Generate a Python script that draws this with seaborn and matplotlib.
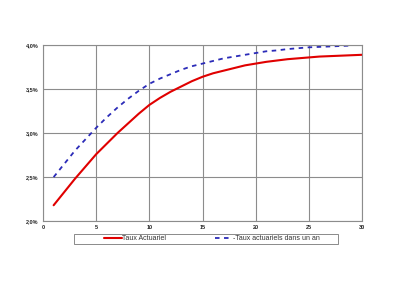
import matplotlib
matplotlib.use("Agg")
import matplotlib.pyplot as plt
from matplotlib.patches import Rectangle
import seaborn as sns
import pandas as pd
from matplotlib.ticker import FuncFormatter

years_actuel = list(range(1, 31))
taux_actuel = [2.18, 2.33, 2.48, 2.62, 2.76, 2.88, 3.00, 3.11, 3.22, 3.32,
               3.40, 3.47, 3.53, 3.59, 3.64, 3.68, 3.71, 3.74, 3.77, 3.79,
               3.81, 3.825, 3.84, 3.85, 3.86, 3.87, 3.875, 3.88, 3.885, 3.89]

years_un_an = list(range(1, 30))
taux_un_an = [2.50, 2.65, 2.80, 2.93, 3.06, 3.18, 3.29, 3.39, 3.48, 3.56,
              3.62, 3.67, 3.72, 3.76, 3.79, 3.82, 3.85, 3.87, 3.89, 3.91,
              3.93, 3.94, 3.955, 3.965, 3.975, 3.98, 3.985, 3.99, 3.995]

label_actuel = "Taux Actuariel"
label_un_an = "-Taux actuariels dans un an"

sns.set_style("white")
plt.rcParams['font.family'] = ['Liberation Sans', 'DejaVu Sans']

fig = plt.figure(figsize=(4.0, 2.82), dpi=100)
ax = fig.add_axes([0.1075, 0.216, 0.7975, 0.624])

df1 = pd.DataFrame({"annee": years_actuel, "taux": taux_actuel})
df2 = pd.DataFrame({"annee": years_un_an, "taux": taux_un_an})

sns.lineplot(data=df1, x="annee", y="taux", ax=ax, color="#e00000",
             linewidth=1.5, label=label_actuel)
sns.lineplot(data=df2, x="annee", y="taux", ax=ax, color="#2b2bb8",
             linewidth=1.3, linestyle=(0, (2.5, 2.5)), label=label_un_an)

ax.set_xlim(0, 30)
ax.set_ylim(2.0, 4.0)
ax.set_xticks([0, 5, 10, 15, 20, 25, 30])
ax.set_yticks([2.0, 2.5, 3.0, 3.5, 4.0])
ax.yaxis.set_major_formatter(FuncFormatter(lambda v, p: f"{v:.1f}%".replace(".", ",")))
ax.tick_params(axis="both", labelsize=4, length=0, pad=3)
for t in ax.get_xticklabels() + ax.get_yticklabels():
    t.set_fontweight("bold")
ax.set_xlabel("")
ax.set_ylabel("")
ax.grid(True, color="#8c8c8c", linewidth=0.8)
for s in ax.spines.values():
    s.set_color("#8c8c8c")
    s.set_linewidth(0.8)

leg = ax.legend(loc="center left", bbox_to_anchor=(101 / 400, 1 - 239 / 282),
                bbox_transform=fig.transFigure, ncol=2,
                fontsize=5, frameon=False, handlelength=2.5,
                columnspacing=7.0, borderpad=0, handletextpad=0.05)
for t in leg.get_texts():
    t.set_color("#333333")

fig.patches.append(Rectangle((74 / 400, 1 - 244 / 282), 264 / 400, 10 / 282,
                             transform=fig.transFigure, fill=False,
                             edgecolor="#777777", linewidth=0.6))

fig.savefig("out.png", dpi=100)
